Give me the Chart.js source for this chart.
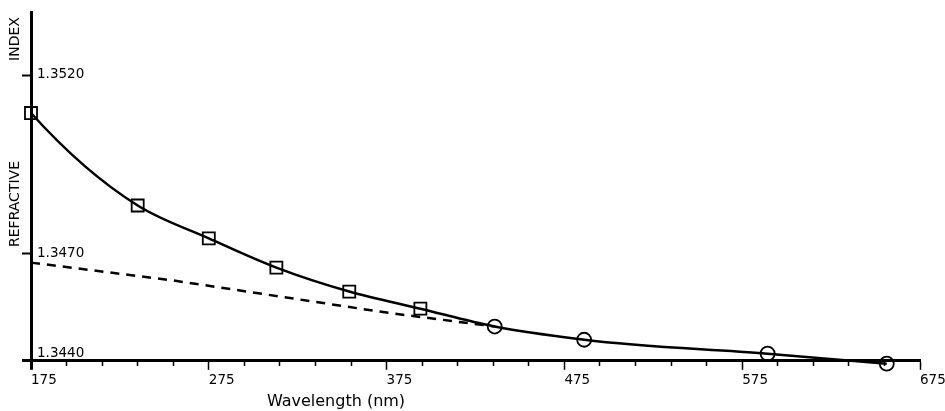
<!DOCTYPE html>
<html>
<head>
<meta charset="utf-8">
<script src="https://cdn.jsdelivr.net/npm/chart.js@4"></script>
<style>
  html, body { margin: 0; padding: 0; background: #fff; }
  #wrap { width: 945px; height: 411px; }
</style>
</head>
<body>
<div id="wrap"><canvas id="chart-1"></canvas></div>
<script>
// wavelength (nm) and refractive index
let squareX = [175, 235, 275, 313, 354, 394];
let squareY = [1.35094, 1.34835, 1.34743, 1.34661, 1.34594, 1.34546];
let circleX = [435.8, 486.1, 589.3, 656.3];
let circleY = [1.34496, 1.34459, 1.34420, 1.34392];
let dashX = [175, 255, 375, 435.8];
let dashY = [1.34675, 1.34625, 1.34535, 1.34496];

let xTickLabels = [175, 275, 375, 475, 575, 675];
let yTickValues = [1.3440, 1.3470, 1.3520];
let yTickLabels = ["1.3440", "1.3470", "1.3520"];

function pairs(xs, ys) {
  return xs.map(function (x, i) { return { x: x, y: ys[i] }; });
}

let curve = pairs(squareX.concat(circleX), squareY.concat(circleY));

Chart.defaults.font.family = '"DejaVu Sans"';
Chart.defaults.color = "#000";

// the default spline starts along the chord; use three-point tangents
// so the fitted curve keeps its steep start like the original
const smoothCurve = {
  id: "smoothCurve",
  beforeDatasetDraw(chart, args) {
    if (args.index !== 0) return;
    const line = args.meta.dataset;
    line.updateControlPoints(chart.chartArea, "x");
    const pts = args.meta.data;
    const n = pts.length;
    let h = [], s = [], d = [];
    for (let i = 0; i < n - 1; i++) {
      h[i] = pts[i + 1].x - pts[i].x;
      s[i] = (pts[i + 1].y - pts[i].y) / h[i];
    }
    d[0] = ((2 * h[0] + h[1]) * s[0] - h[0] * s[1]) / (h[0] + h[1]);
    for (let i = 1; i < n - 1; i++) {
      d[i] = (h[i] * s[i - 1] + h[i - 1] * s[i]) / (h[i - 1] + h[i]);
    }
    d[n - 1] = ((2 * h[n - 2] + h[n - 3]) * s[n - 2] - h[n - 2] * s[n - 3]) / (h[n - 2] + h[n - 3]);
    for (let i = 0; i < n; i++) {
      let p = pts[i];
      if (i > 0) {
        p.cp1x = p.x - h[i - 1] / 3;
        p.cp1y = p.y - d[i] * h[i - 1] / 3;
      }
      if (i < n - 1) {
        p.cp2x = p.x + h[i] / 3;
        p.cp2y = p.y + d[i] * h[i] / 3;
      }
    }
    line._path = undefined;
  }
};

// axis words and y labels sit inside / beside the axes like the original
const axisText = {
  id: "axisText",
  afterDraw(chart) {
    const ctx = chart.ctx;
    const y = chart.scales.y;
    const left = chart.chartArea.left;
    ctx.save();
    ctx.fillStyle = "#000";
    ctx.font = '13.5px "DejaVu Sans"';
    ctx.textAlign = "left";
    ctx.textBaseline = "alphabetic";
    for (let i = 0; i < yTickValues.length; i++) {
      let py = y.getPixelForValue(yTickValues[i]);
      ctx.fillText(yTickLabels[i], left + 6, i === 0 ? py - 4 : py + 3);
    }

    ctx.font = '14px "DejaVu Sans"';
    ctx.textAlign = "center";
    ctx.textBaseline = "middle";
    ctx.save();
    ctx.translate(15, 204);
    ctx.rotate(-Math.PI / 2);
    ctx.fillText("REFRACTIVE", 0, 0);
    ctx.restore();
    ctx.save();
    ctx.translate(15, 39);
    ctx.rotate(-Math.PI / 2);
    ctx.fillText("INDEX", 0, 0);
    ctx.restore();

    ctx.font = '16px "DejaVu Sans"';
    ctx.textBaseline = "alphabetic";
    ctx.fillText("Wavelength (nm)", 336, 406);
    ctx.restore();
  }
};

new Chart(document.getElementById("chart-1"), {
  type: "line",
  plugins: [smoothCurve, axisText],
  data: {
    datasets: [
      {
        data: curve,
        borderColor: "#000",
        borderWidth: 2.5,
        tension: 0.4,
        pointRadius: 0,
        clip: false
      },
      {
        data: pairs(dashX, dashY),
        borderColor: "#000",
        borderWidth: 2.5,
        borderDash: [9, 7],
        pointRadius: 0,
        tension: 0,
        clip: false
      },
      {
        data: pairs(squareX, squareY),
        showLine: false,
        pointStyle: "rect",
        pointRadius: 8.5,
        pointBorderWidth: 1.8,
        pointBorderColor: "#000",
        pointBackgroundColor: "rgba(0,0,0,0)",
        clip: false
      },
      {
        data: pairs(circleX, circleY),
        showLine: false,
        pointStyle: "circle",
        pointRadius: 7,
        pointBorderWidth: 1.8,
        pointBorderColor: "#000",
        pointBackgroundColor: "rgba(0,0,0,0)",
        clip: false
      }
    ]
  },
  options: {
    responsive: true,
    maintainAspectRatio: false,
    animation: false,
    layout: { padding: { left: 22, right: 25, top: 12, bottom: 19 } },
    plugins: {
      legend: { display: false },
      tooltip: { enabled: false }
    },
    scales: {
      x: {
        type: "linear",
        min: 175,
        max: 675,
        afterBuildTicks: function (scale) {
          let t = [];
          for (let v = 175; v <= 675; v += 20) t.push({ value: v });
          scale.ticks = t;
        },
        afterFit: function (scale) {
          scale.paddingRight = 0;
          scale.paddingLeft = 0;
        },
        border: { display: true, color: "#000", width: 3 },
        grid: {
          drawOnChartArea: false,
          drawTicks: true,
          tickLength: 9,
          tickColor: "#000",
          tickWidth: function (c) { return c.tick && c.tick.value === 175 ? 3 : 1.5; },
          tickBorderDash: function (c) {
            return c.tick && xTickLabels.includes(c.tick.value) ? [] : [4, 20];
          }
        },
        ticks: {
          autoSkip: false,
          maxRotation: 0,
          align: "start",
          padding: 3,
          font: { size: 13.5 },
          callback: function (v) { return xTickLabels.includes(v) ? String(v) : ""; }
        }
      },
      y: {
        type: "linear",
        min: 1.344,
        max: 1.35377,
        afterBuildTicks: function (scale) {
          scale.ticks = yTickValues.map(function (v) { return { value: v }; });
        },
        border: { display: true, color: "#000", width: 3 },
        grid: {
          drawOnChartArea: false,
          drawTicks: true,
          tickLength: 9,
          tickColor: "#000",
          tickWidth: function (c) { return c.tick && c.tick.value === 1.344 ? 3 : 2; }
        },
        ticks: { display: false }
      }
    }
  }
});
</script>
</body>
</html>
